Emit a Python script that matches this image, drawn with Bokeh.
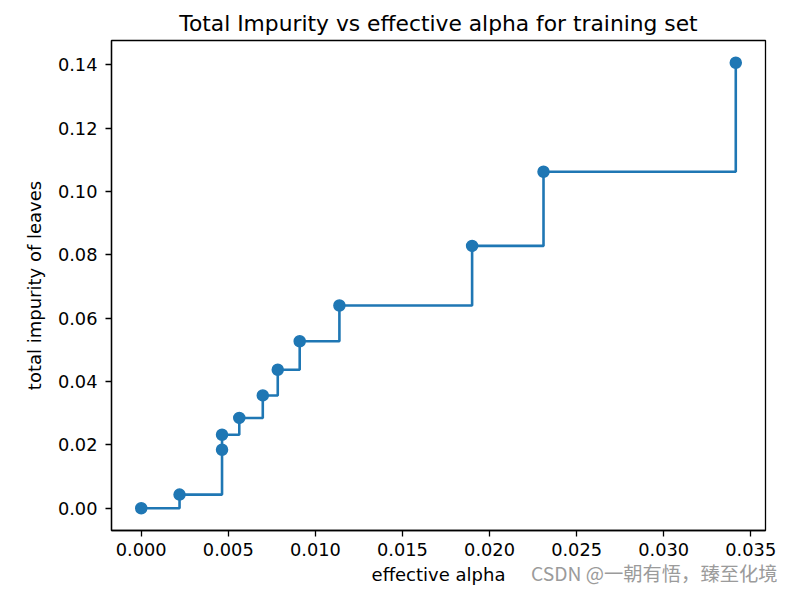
from bokeh.plotting import figure
from bokeh.models import Range1d, FixedTicker, NumeralTickFormatter, Title
from bokeh.embed import file_html
from bokeh.resources import INLINE

# data
ccp_alphas = [0.0, 0.0022, 0.00464, 0.00464, 0.00563, 0.00698, 0.00784, 0.0091, 0.01138, 0.0190, 0.0231, 0.03414]
impurities = [0.0, 0.0043, 0.01845, 0.0232, 0.0285, 0.0356, 0.0437, 0.0527, 0.0640, 0.0828, 0.1062, 0.1406]
x_ticks = [0.0, 0.005, 0.010, 0.015, 0.020, 0.025, 0.030, 0.035]
y_ticks = [0.0, 0.02, 0.04, 0.06, 0.08, 0.10, 0.12, 0.14]
title_text = "Total Impurity vs effective alpha for training set"
x_label = "effective alpha"
y_label = "total impurity of leaves"
watermark = "CSDN @一朝有悟，臻至化境"

FONT = "DejaVu Sans"
C0 = "#1f77b4"

xmin, xmax = min(ccp_alphas), max(ccp_alphas)
ymin, ymax = min(impurities), max(impurities)
xm = 0.05 * (xmax - xmin)
ym = 0.05 * (ymax - ymin)

p = figure(width=794, height=590, output_backend="svg", toolbar_location=None,
           x_range=Range1d(xmin - xm, xmax + xm), y_range=Range1d(ymin - ym, ymax + ym),
           min_border_left=111, min_border_right=29, min_border_top=40, min_border_bottom=60)

p.title.text = title_text
p.title.align = "center"
p.title.text_font = FONT
p.title.text_font_size = "21.8px"
p.title.text_font_style = "normal"
p.title.text_color = "black"
p.title.standoff = 10

p.step(ccp_alphas, impurities, mode="after", line_color=C0, line_width=2.6)
p.scatter(ccp_alphas, impurities, size=11, fill_color=C0, line_color=C0, line_width=1.5)

p.xgrid.visible = False
p.ygrid.visible = False
p.outline_line_color = "black"
p.outline_line_width = 1.3
p.background_fill_color = "white"
p.border_fill_color = "white"

for ax in (p.xaxis[0], p.yaxis[0]):
    ax.axis_line_color = "black"
    ax.axis_line_width = 1.3
    ax.major_tick_line_color = "black"
    ax.major_tick_line_width = 1.3
    ax.major_tick_out = 6
    ax.major_tick_in = 0
    ax.minor_tick_line_color = None
    ax.major_label_text_font = FONT
    ax.major_label_text_font_size = "17.8px"
    ax.major_label_text_color = "black"
    ax.axis_label_text_font = FONT
    ax.axis_label_text_font_size = "18px"
    ax.axis_label_text_font_style = "normal"
    ax.axis_label_text_color = "black"

p.xaxis.ticker = FixedTicker(ticks=x_ticks)
p.yaxis.ticker = FixedTicker(ticks=y_ticks)
p.xaxis.formatter = NumeralTickFormatter(format="0.000")
p.yaxis.formatter = NumeralTickFormatter(format="0.00")
p.xaxis.axis_label = x_label
p.yaxis.axis_label = y_label
p.xaxis.major_label_standoff = 6
p.yaxis.major_label_standoff = 8
p.xaxis.axis_label_standoff = 5
p.yaxis.axis_label_standoff = 10

wm = Title(text=watermark, align="right", vertical_align="top", offset=-12, standoff=-58,
           text_font="Noto Sans CJK SC", text_font_size="19.3px",
           text_font_style="normal", text_color="#9b9b9b")
p.add_layout(wm, "below")

open("out.html", "w").write(file_html(p, INLINE))
